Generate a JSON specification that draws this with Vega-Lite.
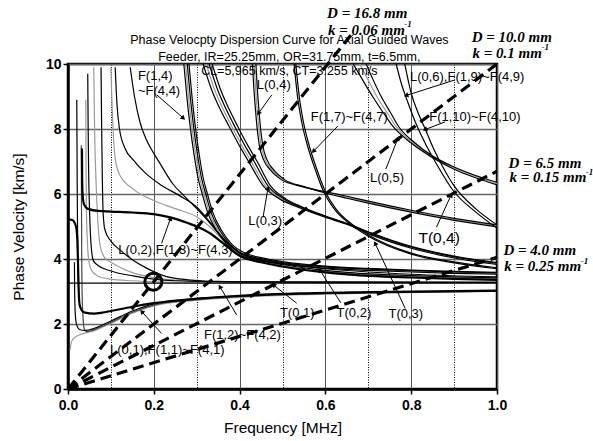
{
"$schema": "https://vega.github.io/schema/vega-lite/v6.json",
"width": 429, "height": 325,
"autosize": "none",
"padding": {"left": 68, "top": 64, "right": 96, "bottom": 52},
"background": "white",
"config": {"view": {"stroke": "black", "strokeWidth": 2.5}, "font": "Liberation Sans"},
"datasets": {
"curves": [
{"s":"A1","f":0.015,"v":3.9},{"s":"A1","f":0.0155,"v":3.0},{"s":"A1","f":0.017,"v":2.3},{"s":"A1","f":0.02,"v":1.98},{"s":"A1","f":0.027,"v":1.83},{"s":"A1","f":0.04,"v":1.8},{"s":"A1","f":0.06,"v":1.86},{"s":"A1","f":0.08,"v":1.97},{"s":"A1","f":0.1,"v":2.09},{"s":"A1","f":0.15,"v":2.4},{"s":"A1","f":0.2,"v":2.62},{"s":"A1","f":0.3,"v":2.78},{"s":"A1","f":0.4,"v":2.86},{"s":"A1","f":0.54,"v":2.93},{"s":"A1","f":0.7,"v":2.97},{"s":"A1","f":0.85,"v":3.0},{"s":"A1","f":1.0,"v":3.02},
{"s":"A2","f":0.031,"v":7.5},{"s":"A2","f":0.0315,"v":5.5},{"s":"A2","f":0.032,"v":4.0},{"s":"A2","f":0.033,"v":2.9},{"s":"A2","f":0.035,"v":2.2},{"s":"A2","f":0.038,"v":1.85},{"s":"A2","f":0.045,"v":1.76},{"s":"A2","f":0.06,"v":1.82},{"s":"A2","f":0.08,"v":1.93},{"s":"A2","f":0.1,"v":2.05},{"s":"A2","f":0.15,"v":2.36},{"s":"A2","f":0.2,"v":2.58},{"s":"A2","f":0.3,"v":2.75},{"s":"A2","f":0.4,"v":2.84},{"s":"A2","f":0.54,"v":2.92},{"s":"A2","f":0.7,"v":2.96},{"s":"A2","f":1.0,"v":3.01},
{"s":"A3","f":0.005,"v":1.2},{"s":"A3","f":0.008,"v":1.45},{"s":"A3","f":0.015,"v":1.58},{"s":"A3","f":0.03,"v":1.68},{"s":"A3","f":0.045,"v":1.74},{"s":"A3","f":0.06,"v":1.79},{"s":"A3","f":0.08,"v":1.9},{"s":"A3","f":0.1,"v":2.02},{"s":"A3","f":0.15,"v":2.33},{"s":"A3","f":0.2,"v":2.56},{"s":"A3","f":0.3,"v":2.73},{"s":"A3","f":0.4,"v":2.82},{"s":"A3","f":0.54,"v":2.9},{"s":"A3","f":0.7,"v":2.95},{"s":"A3","f":1.0,"v":3.0},
{"s":"B","f":0,"v":5.22},{"s":"B","f":0.01,"v":5.2},{"s":"B","f":0.016,"v":5.1},{"s":"B","f":0.02,"v":4.9},{"s":"B","f":0.022,"v":4.5},{"s":"B","f":0.0235,"v":3.8},{"s":"B","f":0.025,"v":3.0},{"s":"B","f":0.027,"v":2.6},{"s":"B","f":0.032,"v":2.42},{"s":"B","f":0.04,"v":2.35},{"s":"B","f":0.06,"v":2.32},{"s":"B","f":0.08,"v":2.35},{"s":"B","f":0.1,"v":2.4},{"s":"B","f":0.15,"v":2.53},{"s":"B","f":0.2,"v":2.64},{"s":"B","f":0.3,"v":2.78},{"s":"B","f":0.4,"v":2.87},{"s":"B","f":0.54,"v":2.94},{"s":"B","f":0.7,"v":2.98},{"s":"B","f":1.0,"v":3.03},
{"s":"t1","f":0.0205,"v":8.9},{"s":"t1","f":0.021,"v":7.5},{"s":"t1","f":0.0215,"v":6.2},{"s":"t1","f":0.022,"v":5.3},{"s":"t1","f":0.0225,"v":4.6},{"s":"t1","f":0.0235,"v":3.6},{"s":"t1","f":0.025,"v":2.9},
{"s":"T01","f":0,"v":3.255},{"s":"T01","f":1,"v":3.255},
{"s":"P1","f":0.0415,"v":8.9},{"s":"P1","f":0.042,"v":7.0},{"s":"P1","f":0.043,"v":5.5},{"s":"P1","f":0.045,"v":4.6},{"s":"P1","f":0.048,"v":4.0},{"s":"P1","f":0.055,"v":3.65},{"s":"P1","f":0.07,"v":3.47},{"s":"P1","f":0.1,"v":3.38},{"s":"P1","f":0.15,"v":3.33},{"s":"P1","f":0.2,"v":3.3},{"s":"P1","f":0.3,"v":3.285},{"s":"P1","f":0.5,"v":3.28},{"s":"P1","f":1.0,"v":3.275},
{"s":"P2","f":0.046,"v":9.7},{"s":"P2","f":0.047,"v":8.0},{"s":"P2","f":0.048,"v":6.8},{"s":"P2","f":0.05,"v":5.6},{"s":"P2","f":0.053,"v":4.6},{"s":"P2","f":0.059,"v":3.95},{"s":"P2","f":0.07,"v":3.8},{"s":"P2","f":0.098,"v":3.64},{"s":"P2","f":0.152,"v":3.48},{"s":"P2","f":0.2,"v":3.38},{"s":"P2","f":0.25,"v":3.33},{"s":"P2","f":0.35,"v":3.3},{"s":"P2","f":0.6,"v":3.29},{"s":"P2","f":1.0,"v":3.28},
{"s":"P3","f":0.06,"v":9.9},{"s":"P3","f":0.062,"v":8.0},{"s":"P3","f":0.065,"v":6.5},{"s":"P3","f":0.069,"v":5.3},{"s":"P3","f":0.075,"v":4.4},{"s":"P3","f":0.085,"v":4.05},{"s":"P3","f":0.1,"v":3.9},{"s":"P3","f":0.113,"v":3.8},{"s":"P3","f":0.15,"v":3.58},{"s":"P3","f":0.191,"v":3.45},{"s":"P3","f":0.25,"v":3.35},{"s":"P3","f":0.35,"v":3.3},{"s":"P3","f":1.0,"v":3.28},
{"s":"P4","f":0.077,"v":9.9},{"s":"P4","f":0.0785,"v":8.0},{"s":"P4","f":0.08,"v":6.5},{"s":"P4","f":0.082,"v":5.4},{"s":"P4","f":0.086,"v":4.9},{"s":"P4","f":0.1,"v":4.55},{"s":"P4","f":0.121,"v":4.28},{"s":"P4","f":0.15,"v":3.98},{"s":"P4","f":0.183,"v":3.72},{"s":"P4","f":0.23,"v":3.46},{"s":"P4","f":0.28,"v":3.36},{"s":"P4","f":0.35,"v":3.31},{"s":"P4","f":0.5,"v":3.29},{"s":"P4","f":1.0,"v":3.28},
{"s":"Q1","f":0.1,"v":9.9},{"s":"Q1","f":0.102,"v":9.0},{"s":"Q1","f":0.105,"v":8.0},{"s":"Q1","f":0.11,"v":7.1},{"s":"Q1","f":0.12,"v":6.6},{"s":"Q1","f":0.152,"v":6.15},{"s":"Q1","f":0.2,"v":5.8},{"s":"Q1","f":0.25,"v":5.55},{"s":"Q1","f":0.3,"v":5.3},{"s":"Q1","f":0.33,"v":5.0},{"s":"Q1","f":0.36,"v":4.6},{"s":"Q1","f":0.4,"v":4.15},{"s":"Q1","f":0.45,"v":3.93},{"s":"Q1","f":0.5,"v":3.8},{"s":"Q1","f":0.58,"v":3.65},{"s":"Q1","f":0.657,"v":3.55},{"s":"Q1","f":0.8,"v":3.46},{"s":"Q1","f":0.9,"v":3.42},{"s":"Q1","f":1.0,"v":3.39},
{"s":"Q2","f":0.11,"v":9.9},{"s":"Q2","f":0.114,"v":8.8},{"s":"Q2","f":0.12,"v":8.0},{"s":"Q2","f":0.133,"v":7.4},{"s":"Q2","f":0.152,"v":7.05},{"s":"Q2","f":0.18,"v":6.65},{"s":"Q2","f":0.214,"v":6.3},{"s":"Q2","f":0.26,"v":5.95},{"s":"Q2","f":0.3,"v":5.6},{"s":"Q2","f":0.33,"v":5.15},{"s":"Q2","f":0.36,"v":4.65},{"s":"Q2","f":0.4,"v":4.18},{"s":"Q2","f":0.45,"v":3.96},{"s":"Q2","f":0.5,"v":3.83},{"s":"Q2","f":0.58,"v":3.68},{"s":"Q2","f":0.657,"v":3.58},{"s":"Q2","f":0.8,"v":3.49},{"s":"Q2","f":0.9,"v":3.45},{"s":"Q2","f":1.0,"v":3.42},
{"s":"Q3","f":0.145,"v":9.9},{"s":"Q3","f":0.155,"v":9.0},{"s":"Q3","f":0.168,"v":8.2},{"s":"Q3","f":0.183,"v":7.66},{"s":"Q3","f":0.2,"v":7.25},{"s":"Q3","f":0.214,"v":6.95},{"s":"Q3","f":0.245,"v":6.3},{"s":"Q3","f":0.27,"v":5.95},{"s":"Q3","f":0.3,"v":5.55},{"s":"Q3","f":0.325,"v":5.2},{"s":"Q3","f":0.35,"v":4.8},{"s":"Q3","f":0.38,"v":4.4},{"s":"Q3","f":0.4,"v":4.2},{"s":"Q3","f":0.45,"v":3.98},{"s":"Q3","f":0.5,"v":3.86},{"s":"Q3","f":0.6,"v":3.7},{"s":"Q3","f":0.7,"v":3.6},{"s":"Q3","f":0.8,"v":3.53},{"s":"Q3","f":1.0,"v":3.45},
{"s":"L02","f":0.0325,"v":7.4},{"s":"L02","f":0.033,"v":6.5},{"s":"L02","f":0.034,"v":6.0},{"s":"L02","f":0.037,"v":5.7},{"s":"L02","f":0.045,"v":5.55},{"s":"L02","f":0.07,"v":5.48},{"s":"L02","f":0.1,"v":5.46},{"s":"L02","f":0.15,"v":5.43},{"s":"L02","f":0.2,"v":5.38},{"s":"L02","f":0.238,"v":5.28},{"s":"L02","f":0.27,"v":5.15},{"s":"L02","f":0.3,"v":5.0},{"s":"L02","f":0.33,"v":4.8},{"s":"L02","f":0.36,"v":4.5},{"s":"L02","f":0.4,"v":4.1},{"s":"L02","f":0.45,"v":3.9},{"s":"L02","f":0.5,"v":3.77},{"s":"L02","f":0.58,"v":3.62},{"s":"L02","f":0.657,"v":3.52},{"s":"L02","f":0.8,"v":3.43},{"s":"L02","f":0.9,"v":3.39},{"s":"L02","f":1.0,"v":3.36},
{"s":"F14a","f":0.27,"v":10},{"s":"F14a","f":0.277,"v":9.0},{"s":"F14a","f":0.285,"v":8.05},{"s":"F14a","f":0.294,"v":7.2},{"s":"F14a","f":0.303,"v":6.5},{"s":"F14a","f":0.313,"v":6.0},{"s":"F14a","f":0.325,"v":5.45},{"s":"F14a","f":0.345,"v":4.9},{"s":"F14a","f":0.37,"v":4.45},{"s":"F14a","f":0.4,"v":4.12},{"s":"F14a","f":0.45,"v":3.95},{"s":"F14a","f":0.5,"v":3.85},{"s":"F14a","f":0.6,"v":3.72},{"s":"F14a","f":0.7,"v":3.65},{"s":"F14a","f":0.8,"v":3.6},{"s":"F14a","f":0.9,"v":3.56},{"s":"F14a","f":1.0,"v":3.53},
{"s":"F14b","f":0.274,"v":10},{"s":"F14b","f":0.281,"v":9.0},{"s":"F14b","f":0.289,"v":8.05},{"s":"F14b","f":0.298,"v":7.2},{"s":"F14b","f":0.307,"v":6.5},{"s":"F14b","f":0.317,"v":6.0},{"s":"F14b","f":0.329,"v":5.45},{"s":"F14b","f":0.349,"v":4.9},{"s":"F14b","f":0.374,"v":4.45},{"s":"F14b","f":0.4,"v":4.17},{"s":"F14b","f":0.45,"v":3.98},{"s":"F14b","f":0.5,"v":3.87},{"s":"F14b","f":0.6,"v":3.74},{"s":"F14b","f":0.7,"v":3.67},{"s":"F14b","f":0.8,"v":3.62},{"s":"F14b","f":0.9,"v":3.58},{"s":"F14b","f":1.0,"v":3.55},
{"s":"F14c","f":0.278,"v":10},{"s":"F14c","f":0.285,"v":9.0},{"s":"F14c","f":0.293,"v":8.05},{"s":"F14c","f":0.302,"v":7.2},{"s":"F14c","f":0.311,"v":6.5},{"s":"F14c","f":0.321,"v":6.0},{"s":"F14c","f":0.333,"v":5.45},{"s":"F14c","f":0.353,"v":4.9},{"s":"F14c","f":0.378,"v":4.45},{"s":"F14c","f":0.4,"v":4.21},{"s":"F14c","f":0.45,"v":4.01},{"s":"F14c","f":0.5,"v":3.89},{"s":"F14c","f":0.6,"v":3.76},{"s":"F14c","f":0.7,"v":3.69},{"s":"F14c","f":0.8,"v":3.64},{"s":"F14c","f":0.9,"v":3.6},{"s":"F14c","f":1.0,"v":3.57},
{"s":"F14d","f":0.282,"v":10},{"s":"F14d","f":0.289,"v":9.0},{"s":"F14d","f":0.297,"v":8.05},{"s":"F14d","f":0.306,"v":7.2},{"s":"F14d","f":0.315,"v":6.5},{"s":"F14d","f":0.325,"v":6.0},{"s":"F14d","f":0.337,"v":5.45},{"s":"F14d","f":0.357,"v":4.9},{"s":"F14d","f":0.382,"v":4.45},{"s":"F14d","f":0.41,"v":4.2},{"s":"F14d","f":0.45,"v":4.04},{"s":"F14d","f":0.5,"v":3.92},{"s":"F14d","f":0.6,"v":3.78},{"s":"F14d","f":0.7,"v":3.71},{"s":"F14d","f":0.8,"v":3.66},{"s":"F14d","f":0.9,"v":3.62},{"s":"F14d","f":1.0,"v":3.59},
{"s":"L03a","f":0.315,"v":10},{"s":"L03a","f":0.335,"v":9.2},{"s":"L03a","f":0.355,"v":8.6},{"s":"L03a","f":0.376,"v":8.07},{"s":"L03a","f":0.401,"v":7.45},{"s":"L03a","f":0.421,"v":7.0},{"s":"L03a","f":0.455,"v":6.25},{"s":"L03a","f":0.493,"v":5.85},{"s":"L03a","f":0.535,"v":5.6},{"s":"L03a","f":0.596,"v":5.3},{"s":"L03a","f":0.654,"v":5.05},{"s":"L03a","f":0.7,"v":4.78},{"s":"L03a","f":0.8,"v":4.33},{"s":"L03a","f":0.9,"v":4.03},{"s":"L03a","f":1.0,"v":3.83},
{"s":"L03b","f":0.322,"v":10},{"s":"L03b","f":0.342,"v":9.2},{"s":"L03b","f":0.362,"v":8.6},{"s":"L03b","f":0.382,"v":8.07},{"s":"L03b","f":0.407,"v":7.45},{"s":"L03b","f":0.427,"v":7.0},{"s":"L03b","f":0.46,"v":6.25},{"s":"L03b","f":0.497,"v":5.85},{"s":"L03b","f":0.538,"v":5.6},{"s":"L03b","f":0.598,"v":5.3},{"s":"L03b","f":0.656,"v":5.05},{"s":"L03b","f":0.7,"v":4.8},{"s":"L03b","f":0.8,"v":4.35},{"s":"L03b","f":0.9,"v":4.05},{"s":"L03b","f":1.0,"v":3.85},
{"s":"L03c","f":0.329,"v":10},{"s":"L03c","f":0.349,"v":9.2},{"s":"L03c","f":0.369,"v":8.6},{"s":"L03c","f":0.389,"v":8.07},{"s":"L03c","f":0.414,"v":7.45},{"s":"L03c","f":0.434,"v":7.0},{"s":"L03c","f":0.466,"v":6.25},{"s":"L03c","f":0.503,"v":5.85},{"s":"L03c","f":0.542,"v":5.6},{"s":"L03c","f":0.602,"v":5.3},{"s":"L03c","f":0.658,"v":5.05},{"s":"L03c","f":0.7,"v":4.82},{"s":"L03c","f":0.8,"v":4.37},{"s":"L03c","f":0.9,"v":4.07},{"s":"L03c","f":1.0,"v":3.87},
{"s":"L03d","f":0.336,"v":10},{"s":"L03d","f":0.356,"v":9.2},{"s":"L03d","f":0.376,"v":8.6},{"s":"L03d","f":0.396,"v":8.07},{"s":"L03d","f":0.421,"v":7.45},{"s":"L03d","f":0.441,"v":7.0},{"s":"L03d","f":0.472,"v":6.25},{"s":"L03d","f":0.508,"v":5.85},{"s":"L03d","f":0.546,"v":5.6},{"s":"L03d","f":0.605,"v":5.3},{"s":"L03d","f":0.66,"v":5.05},{"s":"L03d","f":0.7,"v":4.84},{"s":"L03d","f":0.8,"v":4.39},{"s":"L03d","f":0.9,"v":4.09},{"s":"L03d","f":1.0,"v":3.89},
{"s":"L04a","f":0.43,"v":10},{"s":"L04a","f":0.433,"v":9.3},{"s":"L04a","f":0.437,"v":8.6},{"s":"L04a","f":0.441,"v":8.0},{"s":"L04a","f":0.446,"v":7.5},{"s":"L04a","f":0.456,"v":7.05},{"s":"L04a","f":0.471,"v":6.75},{"s":"L04a","f":0.496,"v":6.45},{"s":"L04a","f":0.548,"v":6.22},{"s":"L04a","f":0.6,"v":6.07},{"s":"L04a","f":0.65,"v":5.93},{"s":"L04a","f":0.7,"v":5.78},{"s":"L04a","f":0.8,"v":5.5},{"s":"L04a","f":0.9,"v":5.25},{"s":"L04a","f":1.0,"v":5.05},
{"s":"L04b","f":0.434,"v":10},{"s":"L04b","f":0.437,"v":9.3},{"s":"L04b","f":0.441,"v":8.6},{"s":"L04b","f":0.445,"v":8.0},{"s":"L04b","f":0.45,"v":7.5},{"s":"L04b","f":0.46,"v":7.05},{"s":"L04b","f":0.475,"v":6.75},{"s":"L04b","f":0.5,"v":6.45},{"s":"L04b","f":0.55,"v":6.22},{"s":"L04b","f":0.6,"v":6.05},{"s":"L04b","f":0.65,"v":5.9},{"s":"L04b","f":0.7,"v":5.75},{"s":"L04b","f":0.8,"v":5.47},{"s":"L04b","f":0.9,"v":5.22},{"s":"L04b","f":1.0,"v":5.02},
{"s":"L04c","f":0.438,"v":10},{"s":"L04c","f":0.441,"v":9.3},{"s":"L04c","f":0.445,"v":8.6},{"s":"L04c","f":0.449,"v":8.0},{"s":"L04c","f":0.454,"v":7.5},{"s":"L04c","f":0.464,"v":7.05},{"s":"L04c","f":0.479,"v":6.75},{"s":"L04c","f":0.504,"v":6.45},{"s":"L04c","f":0.552,"v":6.22},{"s":"L04c","f":0.6,"v":6.03},{"s":"L04c","f":0.65,"v":5.87},{"s":"L04c","f":0.7,"v":5.72},{"s":"L04c","f":0.8,"v":5.44},{"s":"L04c","f":0.9,"v":5.19},{"s":"L04c","f":1.0,"v":4.99},
{"s":"F17a","f":0.527,"v":10},{"s":"F17a","f":0.535,"v":9.0},{"s":"F17a","f":0.545,"v":8.2},{"s":"F17a","f":0.558,"v":7.5},{"s":"F17a","f":0.575,"v":6.8},{"s":"F17a","f":0.595,"v":6.1},{"s":"F17a","f":0.62,"v":5.55},{"s":"F17a","f":0.66,"v":5.05},{"s":"F17a","f":0.7,"v":4.7},{"s":"F17a","f":0.8,"v":4.15},{"s":"F17a","f":0.9,"v":3.88},{"s":"F17a","f":1.0,"v":3.7},
{"s":"F17b","f":0.531,"v":10},{"s":"F17b","f":0.539,"v":9.0},{"s":"F17b","f":0.549,"v":8.2},{"s":"F17b","f":0.562,"v":7.5},{"s":"F17b","f":0.579,"v":6.8},{"s":"F17b","f":0.599,"v":6.1},{"s":"F17b","f":0.624,"v":5.55},{"s":"F17b","f":0.664,"v":5.05},{"s":"F17b","f":0.7,"v":4.74},{"s":"F17b","f":0.8,"v":4.18},{"s":"F17b","f":0.9,"v":3.91},{"s":"F17b","f":1.0,"v":3.73},
{"s":"L05a","f":0.665,"v":10},{"s":"L05a","f":0.685,"v":9.55},{"s":"L05a","f":0.71,"v":9.0},{"s":"L05a","f":0.735,"v":8.5},{"s":"L05a","f":0.758,"v":8.07},{"s":"L05a","f":0.797,"v":7.6},{"s":"L05a","f":0.846,"v":7.15},{"s":"L05a","f":0.9,"v":6.76},{"s":"L05a","f":0.95,"v":6.5},{"s":"L05a","f":1.0,"v":6.28},
{"s":"L05b","f":0.68,"v":10},{"s":"L05b","f":0.698,"v":9.55},{"s":"L05b","f":0.72,"v":9.0},{"s":"L05b","f":0.744,"v":8.5},{"s":"L05b","f":0.765,"v":8.07},{"s":"L05b","f":0.802,"v":7.6},{"s":"L05b","f":0.85,"v":7.15},{"s":"L05b","f":0.9,"v":6.8},{"s":"L05b","f":0.95,"v":6.54},{"s":"L05b","f":1.0,"v":6.32},
{"s":"L05c","f":0.695,"v":10},{"s":"L05c","f":0.71,"v":9.55},{"s":"L05c","f":0.73,"v":9.0},{"s":"L05c","f":0.752,"v":8.5},{"s":"L05c","f":0.771,"v":8.07},{"s":"L05c","f":0.806,"v":7.6},{"s":"L05c","f":0.852,"v":7.15},{"s":"L05c","f":0.9,"v":6.83},{"s":"L05c","f":0.95,"v":6.57},{"s":"L05c","f":1.0,"v":6.36},
{"s":"S1","f":0.765,"v":10},{"s":"S1","f":0.777,"v":9.4},{"s":"S1","f":0.79,"v":8.9},{"s":"S1","f":0.81,"v":8.2},{"s":"S1","f":0.835,"v":7.5},{"s":"S1","f":0.86,"v":6.9},{"s":"S1","f":0.898,"v":6.1},{"s":"S1","f":0.95,"v":5.45},{"s":"S1","f":1.0,"v":4.95},
{"s":"S2","f":0.785,"v":10},{"s":"S2","f":0.8,"v":9.1},{"s":"S2","f":0.816,"v":8.5},{"s":"S2","f":0.832,"v":8.02},{"s":"S2","f":0.852,"v":7.4},{"s":"S2","f":0.875,"v":6.8},{"s":"S2","f":0.9,"v":6.25},{"s":"S2","f":0.95,"v":5.55},{"s":"S2","f":1.0,"v":5.05}
],
"dashed": [
{"s":"D168","f":0,"v":0},{"s":"D168","f":0.66,"v":10.9},
{"s":"D10","f":0,"v":0},{"s":"D10","f":1,"v":10},
{"s":"D65","f":0,"v":0},{"s":"D65","f":1,"v":6.7},
{"s":"D4","f":0,"v":0},{"s":"D4","f":1,"v":4.05}
],
"arrows": [
{"f":0.207,"v":9.05,"f2":0.269,"v2":8.33},
{"f":0.475,"v":9.05,"f2":0.444,"v2":8.48},
{"f":0.902,"v":9.51,"f2":0.788,"v2":9.03},
{"f":0.629,"v":8.09,"f2":0.572,"v2":7.31},
{"f":0.879,"v":8.22,"f2":0.832,"v2":7.98},
{"f":0.741,"v":6.77,"f2":0.769,"v2":7.71},
{"f":0.455,"v":5.31,"f2":0.466,"v2":6.18},
{"f":0.218,"v":4.48,"f2":0.239,"v2":5.25},
{"f":0.859,"v":4.98,"f2":0.893,"v2":5.97},
{"f":0.786,"v":2.48,"f2":0.716,"v2":4.48},
{"f":0.636,"v":2.65,"f2":0.587,"v2":3.66},
{"f":0.533,"v":2.64,"f2":0.479,"v2":3.2},
{"f":0.393,"v":2.28,"f2":0.354,"v2":3.15},
{"f":0.218,"v":1.71,"f2":0.172,"v2":2.38}
],
"labels": [
{"t":"F(1,4)","f":0.163,"v":9.63},
{"t":"~F(4,4)","f":0.163,"v":9.18},
{"t":"L(0,4)","f":0.44,"v":9.35},
{"t":"L(0,6),F(1,9)~F(4,9)","f":0.797,"v":9.6},
{"t":"F(1,7)~F(4,7)","f":0.566,"v":8.38},
{"t":"F(1,10)~F(4,10)","f":0.842,"v":8.36},
{"t":"L(0,5)","f":0.704,"v":6.48},
{"t":"L(0,3)","f":0.42,"v":5.18},
{"t":"L(0,2),F(1,3)~F(4,3)","f":0.117,"v":4.28},
{"t":"T(0,3)","f":0.747,"v":2.3},
{"t":"T(0,2)","f":0.626,"v":2.35},
{"t":"T(0,1)","f":0.494,"v":2.33},
{"t":"F(1,2)~F(4,2)","f":0.317,"v":1.66},
{"t":"L(0,1),F(1,1)~F(4,1)","f":0.098,"v":1.2}
],
"titlelines": [
{"t":"Phase Velocpty Dispersion Curve for Axial Guided Waves","f":0.516,"v":10.74},
{"t":"Feeder, IR=25.25mm, OR=31.75mm, t=6.5mm,","f":0.516,"v":10.23},
{"t":"CL=5,965 km/s, CT=3.255 km/s","f":0.516,"v":9.78}
],
"dlabels": [
{"t":"D = 16.8 mm","f":0.604,"v":11.57},
{"t":"k = 0.06 mm","f":0.606,"v":11.05},
{"t":"D = 10.0 mm","f":0.941,"v":10.83},
{"t":"k = 0.1 mm","f":0.943,"v":10.34},
{"t":"D = 6.5 mm","f":1.027,"v":6.95},
{"t":"k = 0.15 mm","f":1.029,"v":6.51},
{"t":"D = 4.0 mm","f":1.015,"v":4.28},
{"t":"k = 0.25 mm","f":1.017,"v":3.78}
],
"sups": [
{"t":"-1","f":0.784,"v":11.22},
{"t":"-1","f":1.104,"v":10.51},
{"t":"-1","f":1.207,"v":6.68},
{"t":"-1","f":1.195,"v":3.95}
]
},
"layer": [
{
"data": {"name": "curves"},
"transform": [{"filter": {"field": "s", "oneOf": ["A3","P1","P3","Q1","F14b","L03b","L04b","L05b"]}}],
"mark": {"type": "line", "color": "#9a9a9a", "strokeWidth": 1.2, "interpolate": "monotone", "clip": true},
"encoding": {
"x": {"field": "f", "type": "quantitative", "scale": {"domain": [0, 1], "nice": false, "zero": false}, "title": "Frequency [MHz]",
"axis": {"values": [0,0.1,0.2,0.3,0.4,0.5,0.6,0.7,0.8,0.9,1.0], "labelExpr": "round(datum.value*10)%2==0 ? format(datum.value,'.1f') : ''", "labelOverlap": false, "labelFlush": false, "tickSize": 5, "tickWidth": 1.5, "tickColor": "black", "tickOpacity": {"condition": {"test": "round(datum.value*10)%2==1", "value": 0}, "value": 1}, "grid": true, "gridColor": {"condition": {"test": "round(datum.value*10)%2==1", "value": "#000000"}, "value": "#555555"}, "gridDash": {"condition": {"test": "round(datum.value*10)%2==1", "value": [1, 1.5]}, "value": []}, "gridWidth": 1, "domainColor": "black", "domainWidth": 2.5, "labelFont": "Liberation Sans", "labelFontSize": 14, "labelFontWeight": "bold", "labelColor": "black", "labelPadding": 4, "titleFont": "Liberation Sans", "titleFontSize": 15.5, "titleFontWeight": "normal", "titleColor": "black", "titlePadding": 8}},
"y": {"field": "v", "type": "quantitative", "scale": {"domain": [0, 10], "nice": false}, "title": "Phase Velocity [km/s]",
"axis": {"values": [0,1,2,3,4,5,6,7,8,9,10], "labelExpr": "datum.value%2==0 ? datum.label : ''", "labelOverlap": false, "labelFlush": false, "tickSize": 5, "tickWidth": 1.5, "tickColor": "black", "tickOpacity": {"condition": {"test": "datum.value%2==1", "value": 0}, "value": 1}, "grid": true, "gridColor": {"condition": {"test": "datum.value%2==1", "value": "#000000"}, "value": "#666666"}, "gridDash": {"condition": {"test": "datum.value%2==1", "value": [1, 1.5]}, "value": []}, "gridWidth": {"condition": {"test": "datum.value%2==1", "value": 1}, "value": 1.5}, "domainColor": "black", "domainWidth": 2.5, "labelFont": "Liberation Sans", "labelFontSize": 14, "labelFontWeight": "bold", "labelColor": "black", "labelPadding": 2, "titleFont": "Liberation Sans", "titleFontSize": 15.5, "titleFontWeight": "normal", "titleColor": "black", "titlePadding": 19}},
"detail": {"field": "s"}
}
},
{
"data": {"name": "curves"},
"transform": [{"filter": {"field": "s", "oneOf": ["A2"]}}],
"mark": {"type": "line", "color": "#444444", "strokeWidth": 1.2, "interpolate": "monotone", "clip": true},
"encoding": {"x": {"field": "f", "type": "quantitative"}, "y": {"field": "v", "type": "quantitative"}, "detail": {"field": "s"}}
},
{
"data": {"name": "curves"},
"transform": [{"filter": {"field": "s", "oneOf": ["A1","t1","T01","P2","P4","Q2","Q3","F14a","F14c","F14d","L03a","L03c","L03d","L04a","L04c","F17a","F17b","L05a","L05c","S1","S2"]}}],
"mark": {"type": "line", "color": "black", "strokeWidth": 1.2, "interpolate": "monotone", "clip": true},
"encoding": {"x": {"field": "f", "type": "quantitative"}, "y": {"field": "v", "type": "quantitative"}, "detail": {"field": "s"}}
},
{
"data": {"name": "curves"},
"transform": [{"filter": {"field": "s", "oneOf": ["B","L02"]}}],
"mark": {"type": "line", "color": "black", "strokeWidth": 2.2, "interpolate": "monotone", "clip": true},
"encoding": {"x": {"field": "f", "type": "quantitative"}, "y": {"field": "v", "type": "quantitative"}, "detail": {"field": "s"}}
},
{
"data": {"name": "dashed"},
"mark": {"type": "line", "color": "black", "strokeWidth": 3.2, "strokeDash": [11, 6], "clip": false},
"encoding": {"x": {"field": "f", "type": "quantitative"}, "y": {"field": "v", "type": "quantitative"}, "detail": {"field": "s"}}
},
{
"data": {"name": "arrows"},
"mark": {"type": "rule", "color": "black", "strokeWidth": 1, "clip": false},
"encoding": {"x": {"field": "f", "type": "quantitative"}, "y": {"field": "v", "type": "quantitative"}, "x2": {"field": "f2"}, "y2": {"field": "v2"}}
},
{
"data": {"name": "arrows"},
"transform": [{"calculate": "atan2((datum.f2-datum.f)*429, (datum.v2-datum.v)*32.5)*180/PI", "as": "ang"}],
"mark": {"type": "point", "shape": "triangle-up", "filled": true, "color": "black", "size": 28, "opacity": 1, "clip": false},
"encoding": {"x": {"field": "f2", "type": "quantitative"}, "y": {"field": "v2", "type": "quantitative"}, "angle": {"field": "ang", "type": "quantitative", "scale": null}}
},
{
"data": {"values": [{"f": 0.199, "v": 3.3}]},
"mark": {"type": "point", "shape": "circle", "filled": false, "color": "black", "strokeWidth": 3, "size": 290, "opacity": 1},
"encoding": {"x": {"field": "f", "type": "quantitative"}, "y": {"field": "v", "type": "quantitative"}}
},
{
"data": {"name": "labels"},
"mark": {"type": "text", "align": "left", "baseline": "middle", "font": "Liberation Sans", "fontSize": 13, "color": "black", "clip": false},
"encoding": {"x": {"field": "f", "type": "quantitative"}, "y": {"field": "v", "type": "quantitative"}, "text": {"field": "t"}}
},
{
"data": {"values": [{"t": "T(0,4)", "f": 0.817, "v": 4.64}]},
"mark": {"type": "text", "align": "left", "baseline": "middle", "font": "Liberation Sans", "fontSize": 15.5, "color": "black", "clip": false},
"encoding": {"x": {"field": "f", "type": "quantitative"}, "y": {"field": "v", "type": "quantitative"}, "text": {"field": "t"}}
},
{
"data": {"name": "titlelines"},
"mark": {"type": "text", "align": "center", "baseline": "middle", "font": "Liberation Sans", "fontSize": 12.5, "color": "black", "clip": false},
"encoding": {"x": {"field": "f", "type": "quantitative"}, "y": {"field": "v", "type": "quantitative"}, "text": {"field": "t"}}
},
{
"data": {"name": "dlabels"},
"mark": {"type": "text", "align": "left", "baseline": "middle", "font": "Liberation Serif", "fontSize": 15, "fontStyle": "italic", "fontWeight": "bold", "color": "black", "clip": false},
"encoding": {"x": {"field": "f", "type": "quantitative"}, "y": {"field": "v", "type": "quantitative"}, "text": {"field": "t"}}
},
{
"data": {"name": "sups"},
"mark": {"type": "text", "align": "left", "baseline": "middle", "font": "Liberation Serif", "fontSize": 9, "fontStyle": "italic", "fontWeight": "bold", "color": "black", "clip": false},
"encoding": {"x": {"field": "f", "type": "quantitative"}, "y": {"field": "v", "type": "quantitative"}, "text": {"field": "t"}}
}
]
}
